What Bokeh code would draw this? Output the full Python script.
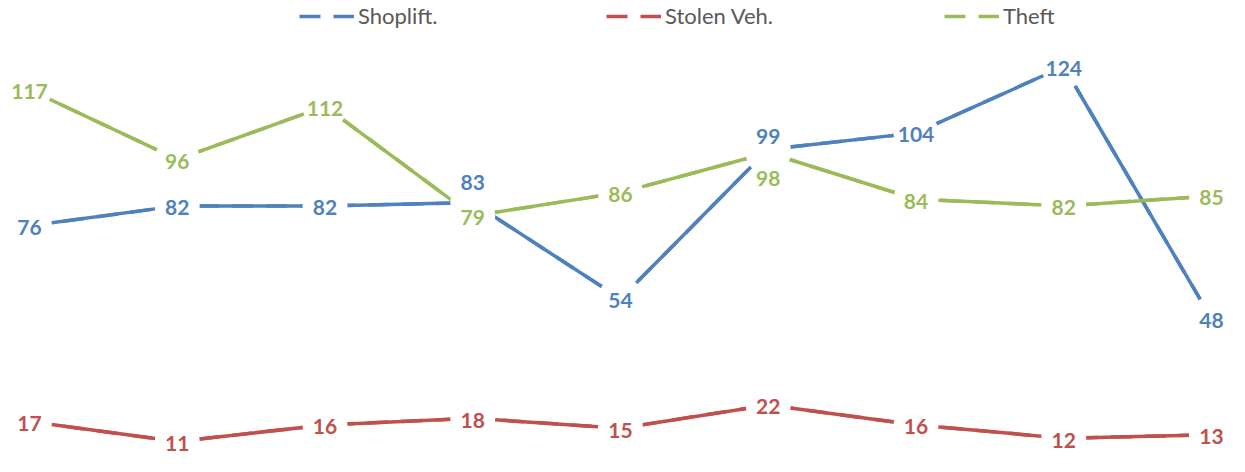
from bokeh.plotting import figure
from bokeh.models import ColumnDataSource, Range1d, Legend, LegendItem
from bokeh.core.properties import value
from bokeh.embed import file_html
from bokeh.resources import INLINE

series_names = ["Shoplift.", "Stolen Veh.", "Theft"]
shoplift = [76, 82, 82, 83, 54, 99, 104, 124, 48]
stolen_veh = [17, 11, 16, 18, 15, 22, 16, 12, 13]
theft = [117, 96, 112, 79, 86, 98, 84, 82, 85]
colors = ["#4F81BD", "#C0504D", "#9BBB59"]

# manual label nudges (screen px, positive = down), keyed by (series index, point index)
label_nudge = {(0, 3): -22, (0, 5): -15, (2, 5): 24}

all_series = [shoplift, stolen_veh, theft]
idx = list(range(len(shoplift)))

W, H = 1229, 456
p = figure(width=W, height=H, output_backend="svg", toolbar_location=None,
           x_range=Range1d(-0.19628, 8.12182), y_range=Range1d(6.48, 143.89),
           x_axis_location=None, y_axis_location=None, min_border=0,
           outline_line_color=None)
p.xgrid.visible = False
p.ygrid.visible = False

sources = []
legend_renderers = []
for s, (vals, col) in enumerate(zip(all_series, colors)):
    dy = [2 + label_nudge.get((s, i), 0) for i in idx]
    src = ColumnDataSource(dict(x=idx, y=vals, t=[str(v) for v in vals], dy=dy))
    sources.append(src)
    # dashed copy underneath (used for the legend glyph), covered by the solid line
    legend_renderers.append(p.line("x", "y", source=src, line_color=col,
                                   line_width=3.5, line_dash="21 13"))
    p.line("x", "y", source=src, line_color=col, line_width=3.5)

for src in sources:
    p.scatter("x", "y", source=src, size=45, fill_color="white", line_color=None)

for src, col in zip(sources, colors):
    p.text("x", "y", text="t", source=src, text_align="center", text_baseline="middle",
           text_font=value("Lato"), text_font_style="bold", text_font_size="21px",
           text_color=col, y_offset="dy")

leg_x = [299, 606, 944]
for name, r, lx in zip(series_names, legend_renderers, leg_x):
    leg = Legend(items=[LegendItem(label=name, renderers=[r])], location=(lx, 427),
                 orientation="horizontal", glyph_width=55, glyph_height=20,
                 label_height=20, label_standoff=4, padding=0, margin=0,
                 border_line_color=None, background_fill_alpha=0,
                 label_text_font="Lato", label_text_font_size="22px",
                 label_text_color="#595959")
    p.add_layout(leg, "center")

open("out.html", "w").write(file_html(p, INLINE))
